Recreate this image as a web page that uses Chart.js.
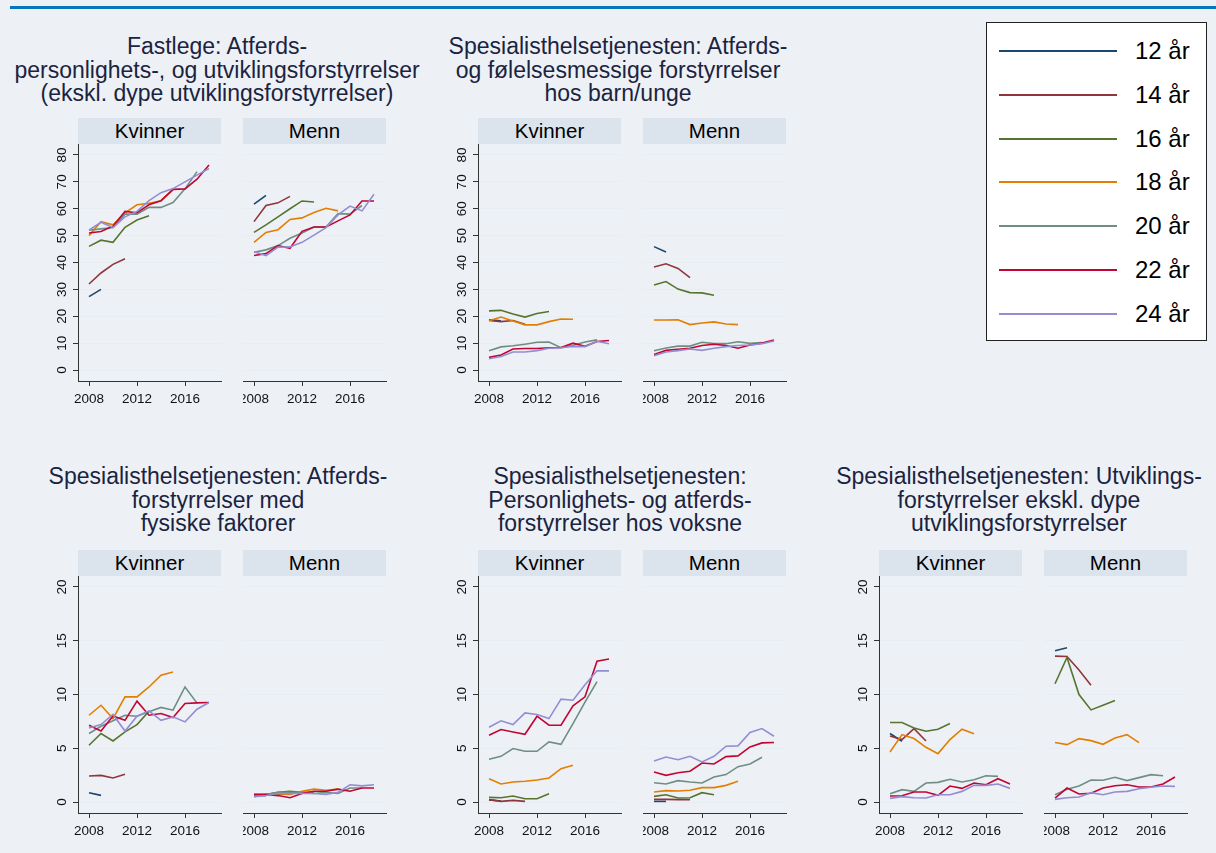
<!DOCTYPE html>
<html>
<head>
<meta charset="utf-8">
<script src="https://cdn.jsdelivr.net/npm/chart.js@4.4.1/dist/chart.umd.min.js"></script>
<style>
  body { margin: 0; width: 1216px; height: 853px; background: #edf1f6; position: relative; overflow: hidden;
         font-family: "Liberation Sans", Arial, sans-serif; }
  .topbar { position: absolute; left: 10px; top: 6px; width: 1206px; height: 3px; background: #0a74bd; }
  .title { position: absolute; width: 480px; text-align: center; font-size: 23px; line-height: 23.5px;
           color: #1b2340; white-space: nowrap; }
  .strip { position: absolute; height: 26px; background: #dbe3ec; text-align: center; font-size: 20.5px;
           line-height: 26px; color: #000; }
  canvas { position: absolute; }
  .legend { position: absolute; left: 986px; top: 22px; width: 219px; height: 317px; background: #fff;
            border: 1.5px solid #222; }
  .legend .row { position: absolute; left: 0; height: 30px; width: 100%; }
  .legend .swatch { position: absolute; left: 12px; width: 118px; height: 2px; top: 14px; }
  .legend .lab { position: absolute; left: 148px; top: 0; font-size: 24px; line-height: 30px; color: #000; }
</style>
</head>
<body>
<div class="topbar"></div>
<div class="legend" id="legend"></div>
<script>
const years = [2008, 2009, 2010, 2011, 2012, 2013, 2014, 2015, 2016, 2017, 2018];
const ages = ['12 år', '14 år', '16 år', '18 år', '20 år', '22 år', '24 år'];
const colors = ['#1a476f', '#90353b', '#55752f', '#e37e00', '#6e8e84', '#c10534', '#938dd2'];
const xTicks = [2008, 2012, 2016];
const yTicksTop = [0, 10, 20, 30, 40, 50, 60, 70, 80];
const yTicksBottom = [0, 5, 10, 15, 20];

// Fastlege
const fastlegeK = [
  [27.3, 30.0],
  [32.0, 36.1, 39.3, 41.4],
  [46.0, 48.3, 47.5, 53.1, 55.8, 57.4],
  [50.0, 55.2, 54.0, 58.5, 61.5, 62.0, 63.0, 67.0],
  [52.0, 52.5, 53.0, 58.0, 58.0, 60.5, 60.5, 62.3, 67.4, 73.8],
  [51.0, 51.5, 53.5, 59.0, 58.5, 61.5, 63.0, 67.2, 67.4, 71.0, 76.3],
  [52.0, 55.0, 53.0, 57.0, 59.0, 63.0, 66.0, 67.5, 70.0, 72.5, 75.0]
];
const fastlegeM = [
  [61.7, 65.0],
  [55.2, 61.2, 62.2, 64.6],
  [51.2, 54.0, 57.0, 60.0, 62.9, 62.5],
  [47.5, 51.2, 52.2, 56.0, 56.6, 58.6, 60.2, 59.2],
  [43.8, 44.7, 46.3, 49.0, 51.0, 53.2, 53.2, 58.2, 58.0, 61.2],
  [42.6, 43.3, 46.3, 45.3, 51.6, 53.2, 53.2, 55.5, 57.7, 62.9, 62.9],
  [44.0, 42.6, 45.7, 45.8, 47.5, 50.2, 53.0, 57.7, 61.0, 59.2, 65.4]
];

// Spesialisthelsetjenesten: atferds- og følelsesmessige, barn/unge
const barnUngeK = [
  [18.7, 18.3],
  [18.4, 18.0, 18.4, 17.0],
  [22.0, 22.2, 20.8, 19.7, 21.0, 21.8],
  [18.3, 19.7, 18.2, 16.8, 16.8, 18.0, 19.0, 18.9],
  [7.2, 8.6, 9.0, 9.6, 10.3, 10.4, 8.3, 9.2, 10.4, 11.2],
  [4.7, 5.6, 7.8, 8.0, 8.0, 8.3, 8.4, 10.0, 8.8, 10.6, 11.0],
  [4.2, 5.0, 6.7, 6.7, 7.2, 8.1, 8.3, 8.8, 8.7, 10.7, 9.8]
];
const barnUngeM = [
  [45.9, 43.9],
  [38.3, 39.5, 37.8, 34.4],
  [31.6, 32.9, 30.1, 28.8, 28.7, 27.8],
  [18.6, 18.6, 18.7, 16.9, 17.5, 17.9, 17.1, 16.9],
  [7.2, 8.2, 8.9, 8.9, 10.3, 9.8, 9.8, 10.5, 9.9, 10.2],
  [5.8, 7.3, 7.7, 8.1, 9.1, 9.6, 9.1, 8.1, 9.3, 10.0, 11.2],
  [5.3, 6.7, 7.2, 7.8, 7.3, 8.1, 8.7, 9.1, 9.3, 9.8, 10.8]
];

// Atferdsforstyrrelser med fysiske faktorer
const fysiskK = [
  [0.87, 0.62],
  [2.42, 2.48, 2.24, 2.58],
  [5.28, 6.37, 5.68, 6.52, 7.2, 8.45],
  [8.07, 9.0, 7.76, 9.78, 9.78, 10.7, 11.8, 12.1],
  [6.37, 7.05, 7.55, 8.07, 7.98, 8.39, 8.8, 8.54, 10.7, 9.2],
  [7.14, 6.6, 8.0, 7.6, 9.38, 8.07, 8.23, 7.86, 9.16, 9.22, 9.25],
  [6.89, 7.2, 8.14, 6.6, 7.98, 8.48, 7.6, 7.92, 7.45, 8.63, 9.25]
];
const fysiskM = [
  [0.6, 0.6],
  [0.6, 0.7, 0.7, 0.8],
  [0.6, 0.7, 0.9, 1.0, 0.9, 0.9],
  [0.75, 0.75, 0.75, 0.7, 1.0, 1.2, 1.1, 1.2],
  [0.5, 0.7, 0.9, 0.9, 0.9, 0.8, 0.9, 0.8, 1.3, 1.3],
  [0.7, 0.7, 0.6, 0.4, 0.8, 1.0, 1.0, 1.2, 1.0, 1.3, 1.3],
  [0.5, 0.6, 0.8, 0.8, 0.8, 0.8, 0.7, 0.9, 1.6, 1.5, 1.6]
];

// Personlighets- og atferdsforstyrrelser hos voksne
const voksneK = [
  [0.2, 0.1],
  [0.22, 0.06, 0.15, 0.06],
  [0.43, 0.4, 0.56, 0.31, 0.31, 0.78],
  [2.17, 1.68, 1.86, 1.93, 2.05, 2.24, 3.1, 3.42],
  [3.98, 4.25, 4.97, 4.72, 4.72, 5.59, 5.37, 7.3, 9.3, 11.2],
  [6.21, 6.74, 6.52, 6.3, 7.98, 7.14, 7.14, 8.94, 9.78, 13.1, 13.3],
  [6.96, 7.55, 7.2, 8.29, 8.14, 7.76, 9.57, 9.47, 10.9, 12.2, 12.2]
];
const voksneM = [
  [0.06, 0.06],
  [0.25, 0.25, 0.22, 0.22],
  [0.53, 0.68, 0.37, 0.4, 0.87, 0.68],
  [0.93, 1.06, 1.02, 1.09, 1.34, 1.34, 1.55, 1.93],
  [1.8, 1.68, 1.99, 1.86, 1.77, 2.33, 2.55, 3.29, 3.54, 4.16],
  [2.8, 2.48, 2.73, 2.86, 3.63, 3.54, 4.22, 4.29, 5.12, 5.5, 5.53],
  [3.82, 4.19, 3.94, 4.25, 3.73, 4.25, 5.19, 5.22, 6.46, 6.83, 6.12]
];

// Utviklingsforstyrrelser ekskl. dype
const utviklingK = [
  [6.37, 5.65],
  [6.15, 5.81, 6.83, 5.68],
  [7.39, 7.39, 6.89, 6.58, 6.77, 7.3],
  [4.66, 6.27, 5.9, 5.09, 4.5, 5.81, 6.77, 6.34],
  [0.78, 1.15, 0.99, 1.77, 1.83, 2.11, 1.86, 2.08, 2.45, 2.39],
  [0.56, 0.59, 0.93, 0.93, 0.62, 1.49, 1.27, 1.77, 1.61, 2.17, 1.68],
  [0.34, 0.5, 0.4, 0.37, 0.68, 0.68, 0.99, 1.55, 1.55, 1.68, 1.27]
];
const utviklingM = [
  [14.07, 14.35],
  [13.57, 13.54, 12.27, 10.87],
  [11.0, 13.45, 10.0, 8.57, 9.0, 9.44],
  [5.53, 5.34, 5.9, 5.71, 5.37, 5.96, 6.27, 5.53],
  [0.68, 1.18, 1.49, 2.05, 2.02, 2.3, 1.99, 2.27, 2.55, 2.45],
  [0.37, 1.3, 0.75, 0.81, 1.3, 1.52, 1.61, 1.4, 1.4, 1.68, 2.33],
  [0.25, 0.4, 0.47, 0.87, 0.68, 0.93, 0.99, 1.24, 1.37, 1.49, 1.46]
];

const FONT = '"Liberation Sans", Arial, sans-serif';
const PLOT_W = 143, PLOT_H = 237, YAXIS_W = 40, XAXIS_H = 30, RIGHT_PAD = 12;
const xMin = 2008 - 11 / 12, xMax = xMin + PLOT_W / 12;

const panels = [
  { title: ['Fastlege: Atferds-', 'personlighets-, og utviklingsforstyrrelser', '(ekskl. dype utviklingsforstyrrelser)'],
    cx: 217, ty: 35, top: 118, lefts: [78, 243], k: fastlegeK, m: fastlegeM, yMin: -4.09, yMax: 84.09, yTicks: yTicksTop },
  { title: ['Spesialisthelsetjenesten: Atferds-', 'og følelsesmessige forstyrrelser', 'hos barn/unge'],
    cx: 618, ty: 35, top: 118, lefts: [478, 643], k: barnUngeK, m: barnUngeM, yMin: -4.09, yMax: 84.09, yTicks: yTicksTop },
  { title: ['Spesialisthelsetjenesten: Atferds-', 'forstyrrelser med', 'fysiske faktorer'],
    cx: 218, ty: 465, top: 550, lefts: [78, 243], k: fysiskK, m: fysiskM, yMin: -1.02, yMax: 21.02, yTicks: yTicksBottom },
  { title: ['Spesialisthelsetjenesten:', 'Personlighets- og atferds-', 'forstyrrelser hos voksne'],
    cx: 620, ty: 465, top: 550, lefts: [478, 643], k: voksneK, m: voksneM, yMin: -1.02, yMax: 21.02, yTicks: yTicksBottom },
  { title: ['Spesialisthelsetjenesten: Utviklings-', 'forstyrrelser ekskl. dype', 'utviklingsforstyrrelser'],
    cx: 1019, ty: 465, top: 550, lefts: [879, 1044], k: utviklingK, m: utviklingM, yMin: -1.02, yMax: 21.02, yTicks: yTicksBottom }
];

function addDiv(cls, css, html) {
  const d = document.createElement('div');
  d.className = cls;
  Object.assign(d.style, css);
  d.innerHTML = html;
  document.body.appendChild(d);
  return d;
}

function makeChart(left, top, series, p, withY) {
  const c = document.createElement('canvas');
  const w = (withY ? YAXIS_W : 0) + PLOT_W + RIGHT_PAD;
  const h = PLOT_H + XAXIS_H;
  c.width = w; c.height = h;
  c.style.left = (left - (withY ? YAXIS_W : 0)) + 'px';
  c.style.top = top + 'px';
  c.style.width = w + 'px';
  c.style.height = h + 'px';
  document.body.appendChild(c);

  new Chart(c.getContext('2d'), {
    type: 'line',
    data: {
      datasets: series.map((vals, i) => ({
        label: ages[i],
        data: vals.map((v, j) => ({ x: years[j], y: v })),
        borderColor: colors[i],
        borderWidth: 1.6,
        pointRadius: 0,
        tension: 0,
        fill: false,
        order: 6 - i
      }))
    },
    options: {
      responsive: false,
      animation: false,
      events: [],
      layout: { padding: { left: 0, right: RIGHT_PAD, top: 0, bottom: 0 } },
      plugins: { legend: { display: false }, tooltip: { enabled: false } },
      scales: {
        x: {
          type: 'linear', min: xMin, max: xMax,
          afterBuildTicks: s => { s.ticks = xTicks.map(v => ({ value: v })); },
          afterFit: s => { s.height = XAXIS_H; s.paddingLeft = 0; s.paddingRight = 0; },
          grid: { drawOnChartArea: false, drawTicks: true, tickLength: 5, tickColor: '#333', tickWidth: 1 },
          border: { display: true, color: '#333', width: 1 },
          ticks: { font: { family: FONT, size: 13.5 }, color: '#111', padding: 5, maxRotation: 0,
                   autoSkip: false, callback: v => String(v) }
        },
        y: {
          type: 'linear', min: p.yMin, max: p.yMax,
          afterBuildTicks: s => { s.ticks = p.yTicks.map(v => ({ value: v })); },
          afterFit: s => { s.width = withY ? YAXIS_W : 0; s.paddingTop = 0; s.paddingBottom = 0; },
          grid: { color: '#e6edf3', lineWidth: 1, drawTicks: withY, tickLength: 5, tickColor: '#333', tickWidth: 1 },
          border: { display: withY, color: '#333', width: 1 },
          ticks: { display: withY, font: { family: FONT, size: 13.5 }, color: '#111', padding: 3,
                   minRotation: 90, maxRotation: 90, crossAlign: 'center', callback: v => String(v) }
        }
      }
    }
  });
}

panels.forEach(p => {
  addDiv('title', { left: (p.cx - 240) + 'px', top: p.ty + 'px' }, p.title.join('<br>'));
  addDiv('strip', { left: p.lefts[0] + 'px', top: p.top + 'px', width: PLOT_W + 'px' }, 'Kvinner');
  addDiv('strip', { left: p.lefts[1] + 'px', top: p.top + 'px', width: PLOT_W + 'px' }, 'Menn');
  makeChart(p.lefts[0], p.top + 26, p.k, p, true);
  makeChart(p.lefts[1], p.top + 26, p.m, p, false);
});

const legend = document.getElementById('legend');
ages.forEach((a, i) => {
  const row = document.createElement('div');
  row.className = 'row';
  row.style.top = (13 + i * 43.8) + 'px';
  row.innerHTML = '<div class="swatch" style="background:' + colors[i] + '"></div><div class="lab">' + a + '</div>';
  legend.appendChild(row);
});
</script>
</body>
</html>
